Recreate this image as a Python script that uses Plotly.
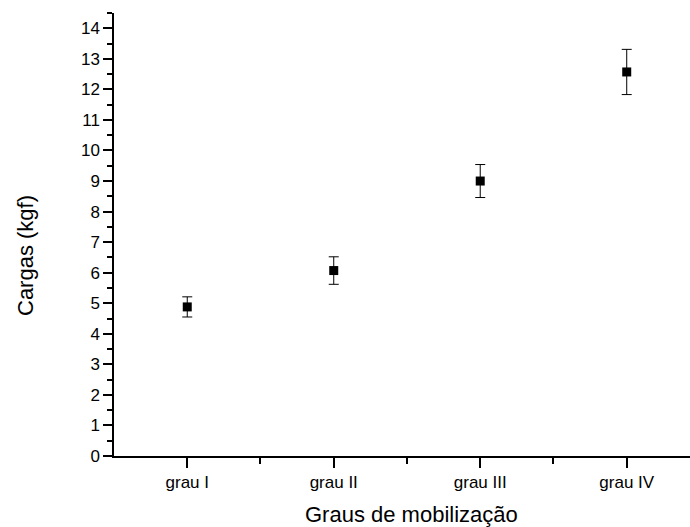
import plotly.graph_objects as go

categories = ["grau I", "grau II", "grau III", "grau IV"]
cargas = [4.88, 6.07, 9.0, 12.57]
erros = [0.33, 0.45, 0.54, 0.74]
y_ticks = list(range(0, 15))

xpos = list(range(len(categories)))

W, H = 690, 527
ML, MR, MT, MB = 114, 0, 13, 71

fig = go.Figure()
fig.add_trace(go.Scatter(
    x=xpos, y=cargas, mode="markers",
    marker=dict(symbol="square", size=9, color="black"),
    error_y=dict(type="data", array=erros, visible=True, color="black", thickness=1, width=5),
    showlegend=False, hoverinfo="skip",
))

font = "Liberation Sans, Arial, sans-serif"
fig.update_layout(
    width=W, height=H,
    margin=dict(l=ML, r=MR, t=MT, b=MB, autoexpand=False),
    paper_bgcolor="white", plot_bgcolor="white",
    font=dict(family=font, color="black"),
)
fig.update_xaxes(
    range=[-0.5, 3.432], tickvals=xpos, ticktext=categories, automargin=False,
    showgrid=False, zeroline=False, showline=True, linecolor="black", linewidth=1.5,
    ticks="outside", ticklen=10, tickwidth=1.5, tickcolor="black",
    tickfont=dict(size=17),
    minor=dict(tickvals=[0.5, 1.5, 2.5], ticks="outside", ticklen=6, tickwidth=1.5, tickcolor="black"),
)
fig.update_yaxes(
    range=[0, 14.5], tickvals=y_ticks, automargin=False,
    showgrid=False, zeroline=False, showline=True, linecolor="black", linewidth=1.5,
    ticks="outside", ticklen=9, tickwidth=1.5, tickcolor="black",
    tickfont=dict(size=17),
    minor=dict(tickvals=[v + 0.5 for v in y_ticks], ticks="outside", ticklen=5, tickwidth=1.5, tickcolor="black"),
)

pw = W - ML - MR
ph = H - MT - MB
fig.add_annotation(
    text="Graus de mobilização", xref="paper", yref="paper",
    x=(411 - ML) / pw, y=1 - (514 - MT) / ph,
    xanchor="center", yanchor="middle", showarrow=False, font=dict(size=22),
)
fig.add_annotation(
    text="Cargas (kgf)", xref="paper", yref="paper",
    x=(25 - ML) / pw, y=1 - (256 - MT) / ph, textangle=-90,
    xanchor="center", yanchor="middle", showarrow=False, font=dict(size=22),
)

fig.write_html("out.html", config={"displayModeBar": False},
               post_script="document.body.style.margin='0';")
